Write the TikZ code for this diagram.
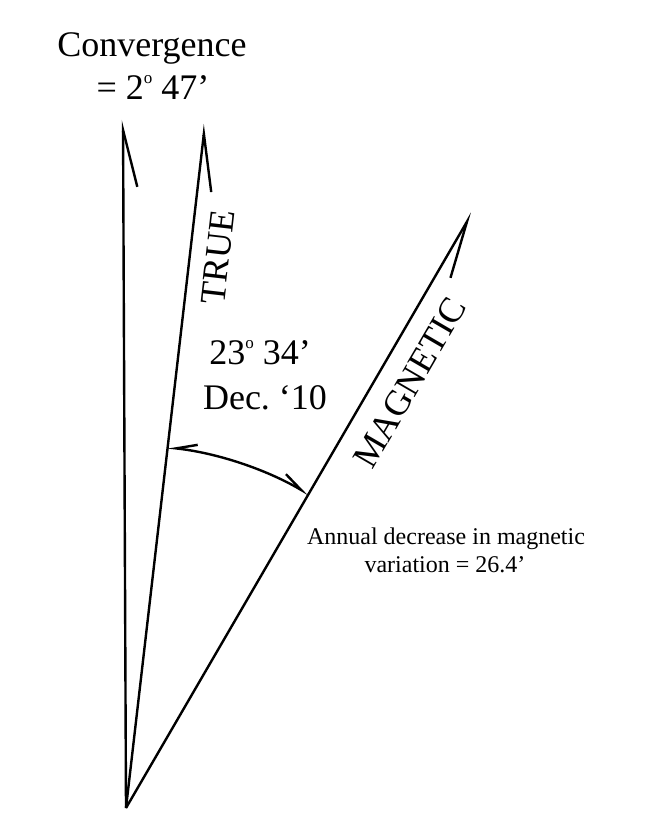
\documentclass[tikz,border=0pt]{standalone}
\usepackage{fontspec}
\setmainfont{Liberation Serif}
\usetikzlibrary{arrows.meta,calc}
\newcommand{\degsign}{\raisebox{16pt}{\fontsize{17}{17}\selectfont o}}
\tikzset{
  bigtext/.style={font=\fontsize{36}{43}\selectfont,inner sep=0pt},
  smalltext/.style={font=\fontsize{24}{28}\selectfont,inner sep=0pt},
  northline/.style={line width=2.4pt,-{Straight Barb[right,length=57pt,width=28pt,line width=2.4pt]}},
  anglearc/.style={line width=2.4pt,{Straight Barb[right,length=21pt,width=12pt]}-{Straight Barb[left,length=21pt,width=12pt]}}
}

\begin{document}
\begin{tikzpicture}[x=1pt,y=1pt]
  \useasboundingbox (0,0) rectangle (664,816);
  \coordinate (origin) at (126,8);
  \coordinate (grid) at (123,696);
  \coordinate (true) at (205,692);
  \coordinate (mag) at (472,603);
  \draw[northline] (origin) -- (grid);
  \draw[northline] (origin) -- (true);
  \draw[northline] (origin) -- (mag);
  \coordinate (arcstart) at ($(origin)!363pt!(true)$);
  \draw[anglearc] (arcstart) arc[start angle=83.41,end angle=59.82,radius=363pt];
  \node[bigtext,anchor=base] (conv) at (152,759) {Convergence};
  \node[bigtext,anchor=base] (convval) at (153,716) {= 2\degsign\ 47’};
  \node[bigtext,rotate=83.4] (truelabel) at (218,559) {TRUE};
  \node[bigtext,rotate=59.8] (maglabel) at (410,433) {MAGNETIC};
  \node[bigtext,anchor=base] (decl) at (260,451) {23\degsign\ 34’};
  \node[bigtext,anchor=base] (declyear) at (265,406) {Dec.\ ‘10};
  \node[smalltext,anchor=base] (annual) at (446,271) {Annual decrease in magnetic};
  \node[smalltext,anchor=base] (annualval) at (445,243) {variation = 26.4’};
\end{tikzpicture}
\end{document}
